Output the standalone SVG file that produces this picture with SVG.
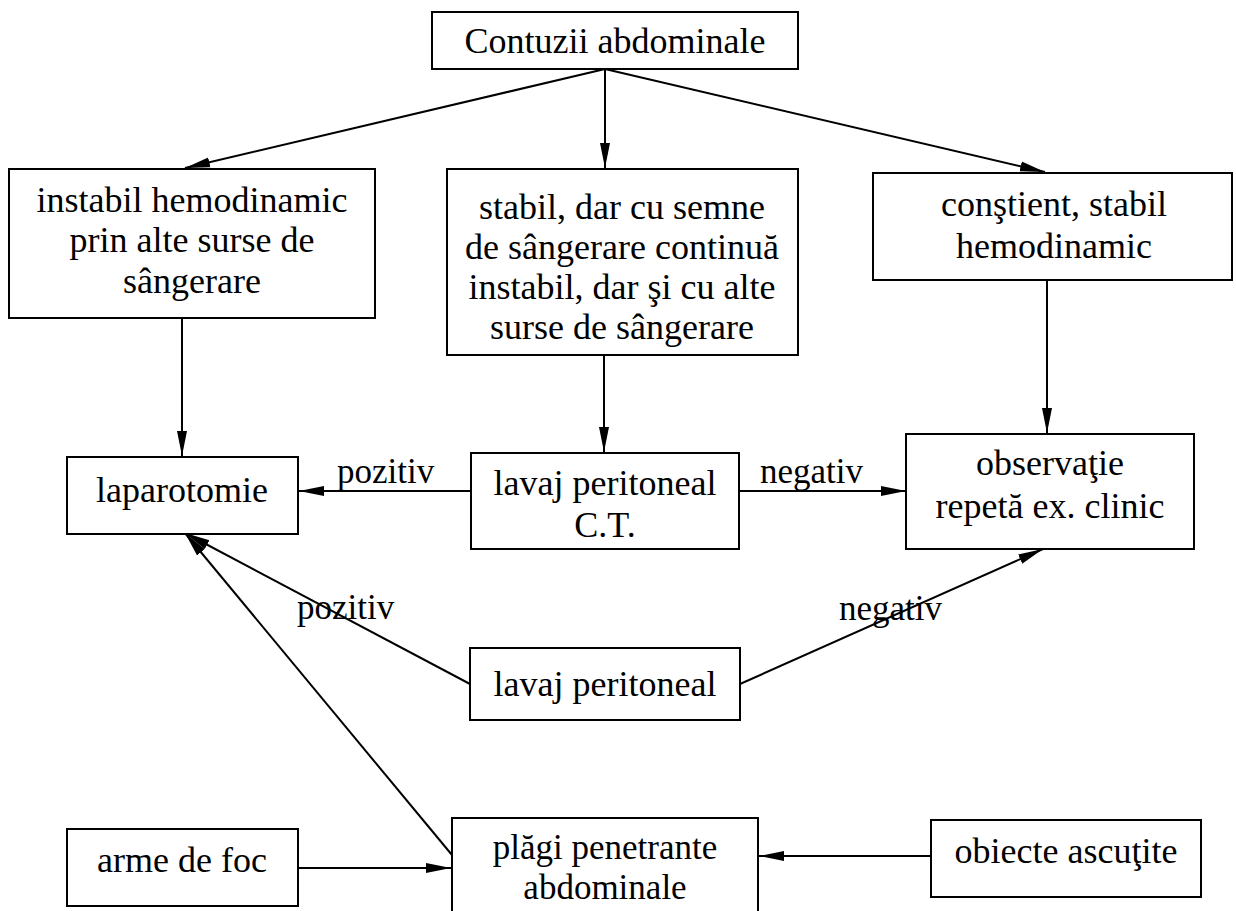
<svg xmlns="http://www.w3.org/2000/svg" width="1236" height="911" viewBox="0 0 1236 911">
<style>
.box{fill:#fff;stroke:#000;stroke-width:2}
.t{font-family:"Liberation Serif","Times New Roman",serif;font-size:36px;fill:#000;text-anchor:middle}
.lbl{font-family:"Liberation Serif","Times New Roman",serif;font-size:35px;fill:#000}
.c{stroke:#000;stroke-width:2;fill:none}
.a{marker-end:url(#ah)}
</style>
<defs>
<marker id="ah" markerUnits="userSpaceOnUse" markerWidth="26" markerHeight="12" refX="25" refY="5" orient="auto" viewBox="0 0 26 10">
<path d="M0,0 L25,5 L0,10 z" fill="#000"/>
</marker>
</defs>
<rect width="1236" height="911" fill="#fff"/>
<g id="connectors">
<line class="c a" x1="605" y1="69" x2="185" y2="168"/>
<line class="c a" x1="605" y1="69" x2="605" y2="168"/>
<line class="c a" x1="605" y1="69" x2="1045" y2="172"/>
<line class="c a" x1="182" y1="318" x2="182" y2="456"/>
<line class="c a" x1="604" y1="355" x2="604" y2="452"/>
<line class="c a" x1="1047" y1="280" x2="1047" y2="433"/>
<line class="c a" x1="471" y1="491" x2="299" y2="491"/>
<line class="c a" x1="739" y1="491" x2="906" y2="491"/>
<line class="c a" x1="470" y1="684" x2="185" y2="533"/>
<line class="c a" x1="740" y1="684" x2="1043" y2="549"/>
<line class="c a" x1="452" y1="855" x2="185" y2="533"/>
<line class="c a" x1="298" y1="868" x2="451" y2="868"/>
<line class="c a" x1="931" y1="856" x2="759" y2="856"/>
<text class="lbl" x="337" y="483">pozitiv</text>
<text class="lbl" x="760" y="483">negativ</text>
<text class="lbl" x="297" y="619">pozitiv</text>
<text class="lbl" x="839" y="620">negativ</text>
</g>
<g id="n_contuzii">
<rect class="box" x="432" y="12" width="366" height="57"/>
<text class="t" x="615" y="53">Contuzii abdominale</text>
</g>
<g id="n_instabil">
<rect class="box" x="9" y="169" width="366" height="149"/>
<text class="t" x="192" y="212">instabil hemodinamic</text>
<text class="t" x="192" y="252">prin alte surse de</text>
<text class="t" x="192" y="293">sângerare</text>
</g>
<g id="n_stabil">
<rect class="box" x="447" y="169" width="351" height="186"/>
<text class="t" x="622" y="219">stabil, dar cu semne</text>
<text class="t" x="622" y="259">de sângerare continuă</text>
<text class="t" x="622" y="299">instabil, dar şi cu alte</text>
<text class="t" x="622" y="339">surse de sângerare</text>
</g>
<g id="n_constient">
<rect class="box" x="873" y="173" width="359" height="107"/>
<text class="t" x="1054" y="216">conştient, stabil</text>
<text class="t" x="1054" y="258">hemodinamic</text>
</g>
<g id="n_laparotomie">
<rect class="box" x="67" y="457" width="231" height="77"/>
<text class="t" x="182" y="502">laparotomie</text>
</g>
<g id="n_lavajct">
<rect class="box" x="471" y="453" width="268" height="96"/>
<text class="t" x="605" y="495">lavaj peritoneal</text>
<text class="t" x="605" y="537">C.T.</text>
</g>
<g id="n_observatie">
<rect class="box" x="906" y="434" width="288" height="115"/>
<text class="t" x="1050" y="475">observaţie</text>
<text class="t" x="1050" y="518">repetă ex. clinic</text>
</g>
<g id="n_lavaj">
<rect class="box" x="470" y="648" width="270" height="72"/>
<text class="t" x="605" y="696">lavaj peritoneal</text>
</g>
<g id="n_arme">
<rect class="box" x="67" y="829" width="231" height="77"/>
<text class="t" x="182" y="872">arme de foc</text>
</g>
<g id="n_plagi">
<rect class="box" x="452" y="818" width="306" height="100"/>
<text class="t" x="605" y="859" style="font-size:35px">plăgi penetrante</text>
<text class="t" x="605" y="899" style="font-size:35px">abdominale</text>
</g>
<g id="n_obiecte">
<rect class="box" x="931" y="820" width="270" height="77"/>
<text class="t" x="1066" y="863">obiecte ascuţite</text>
</g>
</svg>
